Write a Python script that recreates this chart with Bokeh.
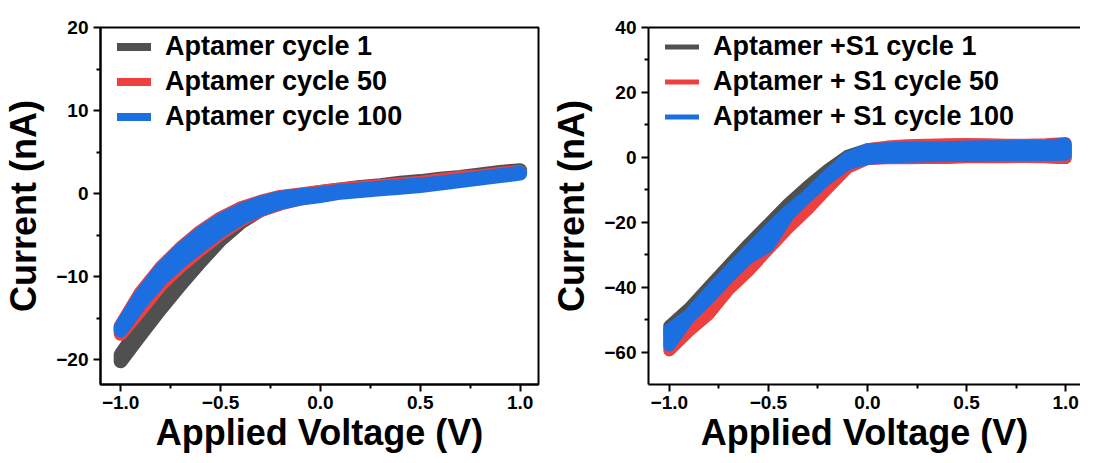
from bokeh.plotting import figure
from bokeh.models import Range1d, FixedTicker, Legend, LegendItem, LinearAxis
from bokeh.layouts import row
from bokeh.embed import file_html
from bokeh.resources import INLINE

# ---------------- data ----------------
volts = [-1.0, -0.9, -0.8, -0.7, -0.6, -0.5, -0.4, -0.3, -0.2, -0.1, 0.0,
         0.1, 0.2, 0.3, 0.4, 0.5, 0.6, 0.7, 0.8, 0.9, 1.0]

# Left panel: Aptamer (forward / reverse sweep), current in nA
apt_c1_fwd = [-20.2, -17.0, -13.9, -11.0, -8.2, -5.6, -3.5, -2.0, -1.1, -0.5, -0.2,
              0.2, 0.5, 0.7, 1.0, 1.2, 1.5, 1.8, 2.1, 2.4, 2.7]
apt_c1_rev = [-19.4, -15.9, -12.7, -9.8, -7.0, -4.5, -2.7, -1.4, -0.6, -0.2, 0.2,
              0.5, 0.8, 1.0, 1.3, 1.5, 1.8, 2.0, 2.3, 2.6, 2.8]
apt_c50_fwd = [-16.9, -14.0, -11.0, -8.7, -6.7, -4.8, -3.2, -2.0, -1.2, -0.6, -0.2,
               0.2, 0.4, 0.6, 0.9, 1.1, 1.4, 1.7, 1.9, 2.2, 2.5]
apt_c50_rev = [-16.0, -12.0, -9.0, -6.6, -4.6, -3.0, -1.8, -1.0, -0.4, -0.1, 0.2,
               0.5, 0.7, 0.9, 1.1, 1.3, 1.6, 1.9, 2.1, 2.4, 2.6]
apt_c100_fwd = [-16.5, -13.2, -10.4, -8.2, -6.3, -4.5, -3.0, -1.9, -1.1, -0.6, -0.3,
                0.1, 0.3, 0.5, 0.7, 0.9, 1.2, 1.5, 1.8, 2.1, 2.4]
apt_c100_rev = [-16.1, -12.3, -9.2, -6.8, -4.8, -3.2, -2.0, -1.1, -0.5, -0.2, 0.0,
                0.3, 0.5, 0.7, 0.9, 1.1, 1.3, 1.6, 1.9, 2.2, 2.5]

# Right panel: Aptamer + S1 (forward / reverse sweep), current in nA
s1_c1_fwd = [-55.0, -49.0, -42.5, -36.0, -30.0, -24.5, -18.0, -12.0, -6.5, -2.0, -0.3,
             0.0, -0.2, 0.0, 0.0, 0.2, 0.1, 0.2, 0.1, 0.0, -0.2]
s1_c1_rev = [-52.0, -46.5, -39.8, -33.2, -26.7, -20.5, -14.3, -8.8, -3.8, 0.5, 2.5,
             3.0, 3.1, 3.2, 3.2, 3.2, 3.1, 3.0, 3.1, 3.2, 3.5]
s1_c50_fwd = [-59.5, -53.5, -48.3, -40.8, -35.0, -28.3, -21.8, -16.0, -9.5, -3.2, -0.5,
              -0.3, -0.3, -0.2, -0.2, 0.0, 0.0, 0.0, 0.2, 0.1, -0.2]
s1_c50_rev = [-55.0, -50.0, -44.0, -37.5, -31.0, -24.5, -18.5, -12.5, -6.0, -1.0, 2.5,
              3.3, 3.7, 3.9, 4.0, 4.1, 4.0, 3.9, 3.9, 4.0, 4.4]
s1_c100_fwd = [-58.0, -49.5, -43.5, -37.0, -31.0, -27.5, -18.0, -12.0, -6.5, -2.0, -0.5,
               0.0, 0.2, 0.3, 0.4, 0.5, 0.5, 0.6, 0.7, 0.7, 0.8]
s1_c100_rev = [-53.0, -48.5, -41.5, -35.0, -28.7, -22.5, -16.5, -11.5, -5.5, 0.0, 2.4,
               2.8, 3.0, 3.0, 3.1, 3.3, 3.4, 3.4, 3.5, 3.6, 4.2]

left_labels = ["Aptamer cycle 1", "Aptamer cycle 50", "Aptamer cycle 100"]
right_labels = ["Aptamer +S1 cycle 1", "Aptamer + S1 cycle 50", "Aptamer + S1 cycle 100"]
colors = ["#505050", "#ef4040", "#1c6fe0"]

x_ticks = [-1.0, -0.5, 0.0, 0.5, 1.0]
x_tick_labels = ["\u22121.0", "\u22120.5", "0.0", "0.5", "1.0"]
x_minor = [-0.75, -0.25, 0.25, 0.75]
left_y_ticks = [-20, -10, 0, 10, 20]
left_y_labels = ["\u221220", "\u221210", "0", "10", "20"]
left_y_minor = [-15, -5, 5, 15]
right_y_ticks = [-60, -40, -20, 0, 20, 40]
right_y_labels = ["\u221260", "\u221240", "\u221220", "0", "20", "40"]
right_y_minor = [-50, -30, -10, 10, 30]

FONT = "Liberation Sans"


def loop(fwd, rev):
    xs = volts + volts[::-1] + volts[:1]
    ys = fwd + rev[::-1] + fwd[:1]
    return xs, ys


def style_axes(p, xt, xl, xm, yt, yl, ym):
    xax = p.below[0]
    yax = p.left[0]
    xax.ticker = FixedTicker(ticks=xt, minor_ticks=xm)
    xax.major_label_overrides = {t: l for t, l in zip(xt, xl)}
    yax.ticker = FixedTicker(ticks=yt, minor_ticks=ym)
    yax.major_label_overrides = {t: l for t, l in zip(yt, yl)}
    for ax in (xax, yax):
        ax.axis_line_width = 2
        ax.axis_line_color = "black"
        ax.major_tick_line_width = 2
        ax.minor_tick_line_width = 2
        ax.major_tick_out = 7
        ax.major_tick_in = 0
        ax.minor_tick_out = 4
        ax.minor_tick_in = 0
        ax.major_label_text_font = FONT
        ax.major_label_text_font_style = "bold"
        ax.major_label_text_font_size = "19px"
        ax.major_label_text_color = "black"
        ax.major_label_standoff = 5
        ax.axis_label_text_font = FONT
        ax.axis_label_text_font_style = "bold"
        ax.axis_label_text_font_size = "36px"
        ax.axis_label_text_color = "black"
    xax.major_label_standoff = 4
    xax.axis_label = "Applied Voltage (V)"
    yax.axis_label = "Current (nA)"
    xax.axis_label_standoff = 0
    yax.axis_label_standoff = 9
    p.xgrid.visible = False
    p.ygrid.visible = False


def make_panel(width, left_border, right_border, xr, yr, series, labels, lw, legend_lw,
               yt, yl, ym, outline):
    p = figure(width=width, height=455, x_range=Range1d(*xr), y_range=Range1d(*yr),
               output_backend="svg", toolbar_location=None,
               min_border_left=left_border, min_border_right=right_border,
               min_border_top=27, min_border_bottom=70)
    p.background_fill_color = "white"
    p.border_fill_color = "white"
    style_axes(p, x_ticks, x_tick_labels, x_minor, yt, yl, ym)
    if outline:
        p.outline_line_color = "black"
        p.outline_line_width = 2
        p.outline_line_alpha = 1
    else:
        p.outline_line_color = None
        top = LinearAxis(ticker=FixedTicker(ticks=[]), major_label_text_font_size="0px",
                         axis_label=None, axis_line_width=2, axis_line_color="black",
                         major_tick_line_color=None, minor_tick_line_color=None,
                         major_label_standoff=0, axis_label_standoff=0)
        p.add_layout(top, "above")
    items = []
    for (fwd, rev), col, lab in zip(series, colors, labels):
        xs, ys = loop(fwd, rev)
        # thinner copy (hidden under the thick trace) used as the legend swatch
        swatch = p.line(xs, ys, line_color=col, line_width=legend_lw, line_cap="round")
        p.line(xs, ys, line_color=col, line_width=lw, line_cap="round", line_join="round")
        items.append(LegendItem(label=lab, renderers=[swatch]))
    leg = Legend(items=items, location=(12, 247), padding=5, margin=0, spacing=4,
                 glyph_width=34, glyph_height=31, label_height=31, label_standoff=14,
                 label_text_font=FONT, label_text_font_style="bold",
                 label_text_font_size="27px", label_text_color="black",
                 background_fill_alpha=0, border_line_alpha=0)
    p.add_layout(leg)
    return p


p1 = make_panel(548, 96, 10, (-1.101, 1.092), (-23, 20),
                [(apt_c1_fwd, apt_c1_rev), (apt_c50_fwd, apt_c50_rev), (apt_c100_fwd, apt_c100_rev)],
                left_labels, 14, 8, left_y_ticks, left_y_labels, left_y_minor, True)
p2 = make_panel(532, 96, 0, (-1.105, 1.075), (-70, 40),
                [(s1_c1_fwd, s1_c1_rev), (s1_c50_fwd, s1_c50_rev), (s1_c100_fwd, s1_c100_rev)],
                right_labels, 12, 5, right_y_ticks, right_y_labels, right_y_minor, False)

layout = row(p1, p2, spacing=0)
open("out.html", "w").write(file_html(layout, INLINE))
